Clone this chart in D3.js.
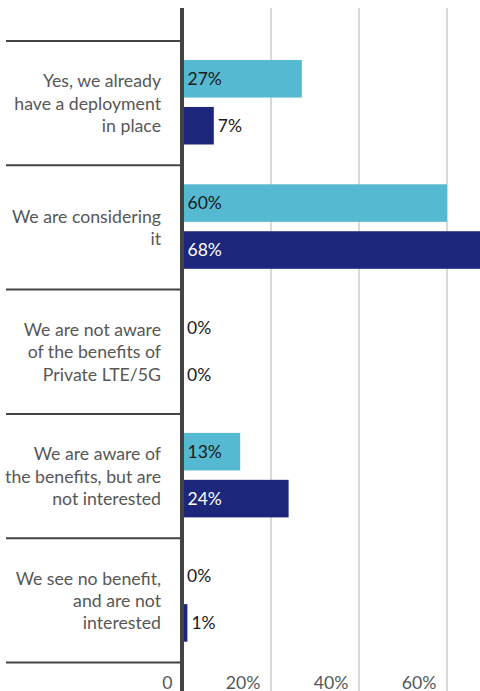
<!DOCTYPE html>
<html>
<head>
<meta charset="utf-8">
<script src="https://cdn.jsdelivr.net/npm/d3@7"></script>
<style>
  html, body { margin: 0; padding: 0; background: #fff; }
  svg { display: block; font-family: Lato, "Open Sans", sans-serif; }
</style>
</head>
<body>
<svg id="chart" width="480" height="691"></svg>
<script>
// Survey answers (label lines) and the share of respondents for each of the two series
const categories = [
  ["Yes, we already", "have a deployment", "in place"],
  ["We are considering", "it"],
  ["We are not aware", "of the benefits of", "Private LTE/5G"],
  ["We are aware of", "the benefits, but are", "not interested"],
  ["We see no benefit,", "and are not", "interested"]
];
const seriesNames = ["first", "second"];
const firstValues = [27, 60, 0, 13, 0];
const secondValues = [7, 68, 0, 24, 1];
const gridTicks = [20, 40, 60, 80];
const axisTicks = [0, 20, 40, 60];

const seriesColors = { first: "#55b9d1", second: "#1c267a" };
const insideText = { first: "#1a1a1a", second: "#ffffff" };

const W = 480, H = 691;
const svg = d3.select("#chart");

const keys = categories.map(c => c.join(" "));
const rows = keys.map((k, i) => ({
  key: k,
  lines: categories[i],
  values: [
    { s: "first", v: firstValues[i] },
    { s: "second", v: secondValues[i] }
  ]
}));

const x = d3.scaleLinear().domain([0, 80]).range([183, 535]);
const y = d3.scaleBand().domain(keys).range([41, 662.5]);
const ys = d3.scaleBand().domain(seriesNames).range([19, 103.5]).paddingInner(0.2);

// vertical gridlines
svg.append("g").selectAll("line").data(gridTicks).join("line")
  .attr("x1", d => x(d)).attr("x2", d => x(d))
  .attr("y1", 8).attr("y2", H)
  .attr("stroke", "#d9d9d9").attr("stroke-width", 2);

// bars
const groups = svg.append("g").selectAll("g").data(rows).join("g")
  .attr("transform", d => `translate(0,${y(d.key)})`);

groups.selectAll("rect").data(d => d.values).join("rect")
  .attr("x", x(0))
  .attr("y", d => ys(d.s))
  .attr("width", d => x(d.v) - x(0))
  .attr("height", ys.bandwidth())
  .attr("fill", d => seriesColors[d.s]);

// value labels: inside the bar when it fits, otherwise just past its end
groups.selectAll("text.val").data(d => d.values).join("text")
  .attr("class", "val")
  .attr("y", d => ys(d.s) + ys.bandwidth() / 2 + 6.3)
  .attr("font-size", 17.5)
  .text(d => d.v + "%")
  .each(function(d) {
    const tw = this.getComputedTextLength();
    const bw = x(d.v) - x(0);
    const inside = bw > tw + 10;
    d3.select(this)
      .attr("x", inside ? x(0) + 4.5 : x(d.v) + 4)
      .attr("fill", inside ? insideText[d.s] : "#1a1a1a");
  });

// category labels
groups.append("text")
  .attr("text-anchor", "end")
  .attr("font-size", 17.7)
  .attr("fill", "#575757")
  .each(function(d) {
    const n = d.lines.length, lh = 22.3;
    const c = y.bandwidth() / 2;
    d3.select(this).selectAll("tspan").data(d.lines).join("tspan")
      .attr("x", 161)
      .attr("y", (l, i) => c + (i - (n - 1) / 2) * lh + 6.5)
      .text(l => l);
  });

// row separators
const bounds = keys.map(k => y(k)).concat([y.range()[1]]);
svg.append("g").selectAll("line").data(bounds).join("line")
  .attr("x1", 6).attr("x2", 182)
  .attr("y1", d => d).attr("y2", d => d)
  .attr("stroke", "#444").attr("stroke-width", 2);

// value axis labels along the bottom edge
const axis = d3.axisBottom(x).tickValues(axisTicks)
  .tickFormat(d => d === 0 ? "0" : d + "%").tickSize(0);
const ag = svg.append("g").attr("transform", "translate(0,689)").call(axis);
ag.select(".domain").remove();
ag.selectAll("text")
  .attr("font-family", "Lato, sans-serif")
  .attr("font-size", 17.7)
  .attr("fill", "#575757")
  .attr("text-anchor", "end")
  .attr("dx", -11)
  .attr("dy", 0)
  .attr("y", 0);

// category axis line
svg.append("line")
  .attr("x1", 182).attr("x2", 182).attr("y1", 8).attr("y2", H)
  .attr("stroke", "#444").attr("stroke-width", 4);
</script>
</body>
</html>
